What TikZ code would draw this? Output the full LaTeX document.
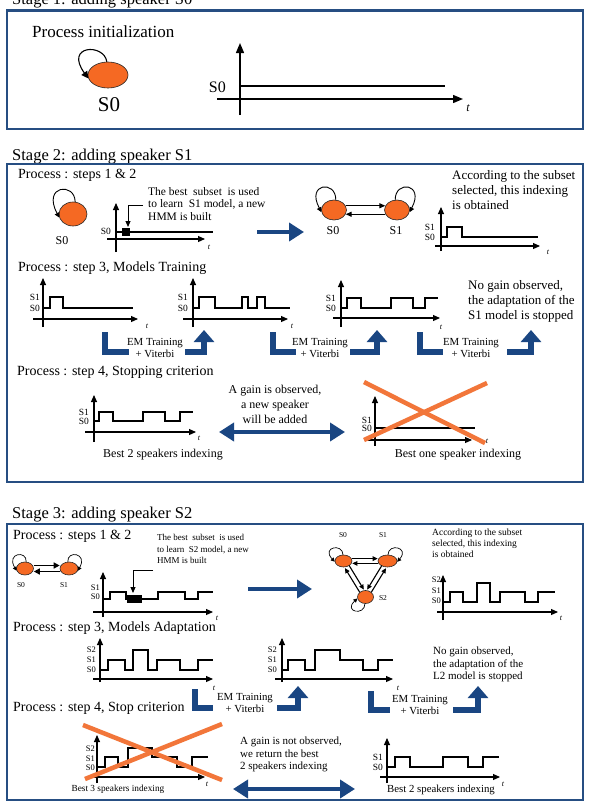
\documentclass[tikz,border=0pt]{standalone}
\usepackage{fontspec}
\setmainfont{Liberation Serif}
\usetikzlibrary{shapes.geometric,arrows.meta}
\newcommand{\fs}[2]{\fontsize{#1}{#2}\selectfont}
\definecolor{boxblue}{RGB}{38,78,130}
\definecolor{arrblue}{RGB}{26,70,130}
\definecolor{stateor}{RGB}{245,105,35}
\definecolor{xor}{RGB}{242,118,58}
\tikzset{
  stagebox/.style={draw=boxblue, line width=2.6pt},
  st/.style={ellipse, draw=black!85, line width=0.6pt, fill=stateor, inner sep=0pt},
  ax/.style={line width=1.1pt, -{Triangle[length=7pt,width=6pt]}},
  axone/.style={line width=1.4pt, -{Triangle[length=10pt,width=8pt]}},
  sig/.style={line width=2pt, line join=miter},
  sigone/.style={line width=2.4pt},
  tr/.style={line width=1.1pt, -{Triangle[length=6pt,width=5pt]}},
  trs/.style={line width=1.1pt, -{Triangle[length=5pt,width=4.5pt]}},
  trm/.style={line width=1.4pt, -{Triangle[length=6pt,width=6pt]}},
  lp/.style={line width=0.9pt, -{Triangle[length=5pt,width=5pt]}},
  lps/.style={line width=0.7pt, -{Triangle[length=4pt,width=4pt]}},
  lpone/.style={line width=1.1pt, -{Triangle[length=7pt,width=7pt]}},
  ptr/.style={line width=1pt, -{Triangle[length=6pt,width=5pt]}},
  bigarr/.style={arrblue, line width=4.5pt, -{Triangle[length=15pt,width=18pt]}},
  bigdbl/.style={arrblue, line width=4.5pt, {Triangle[length=15pt,width=18pt]}-{Triangle[length=15pt,width=18pt]}},
  ell/.style={arrblue, line width=6pt, line join=miter},
  upar/.style={arrblue, line width=6pt, line join=miter, -{Triangle[length=12pt,width=20pt]}},
  cross/.style={xor, line width=4.5pt},
  pl/.style={anchor=west, inner sep=0pt, font=\fs{14}{16}},
  ttl/.style={anchor=base west, inner sep=0pt, font=\fs{16.5}{18}},
  note/.style={anchor=north west, align=left, inner sep=0pt},
  em/.style={align=center, inner sep=0pt, font=\fs{10.8}{12}},
  gl/.style={anchor=east, inner sep=0pt, font=\fs{9.5}{10}},
  gls/.style={anchor=east, inner sep=0pt, font=\fs{8.5}{9}},
  sl/.style={inner sep=0pt, font=\fs{12}{13}},
  sls/.style={inner sep=0pt, font=\fs{7.5}{8}},
  tl/.style={inner sep=0pt, font=\fs{8}{9}\itshape},
  captext/.style={inner sep=0pt},
}
\begin{document}
\begin{tikzpicture}[x=1pt,y=-1pt]
\path[use as bounding box] (0,0) rectangle (590,809);
\clip (0,0) rectangle (590,809);
\fill[white] (0,0) rectangle (590,809);

% ================= Stage 1 =================
\node[ttl] (t1) at (12,4) {Stage 1: adding speaker S0};
\draw[stagebox] (7,10.5) rectangle (583,129);
\node[anchor=west, inner sep=0pt, font=\fs{17}{20}] (pinit) at (32,32) {Process initialization};
\node[st, minimum width=40pt, minimum height=26pt] (a0) at (108,75) {};
\draw[lpone] (a0.95) .. controls (104,43) and (64,45) .. (a0.190);
\node[inner sep=0pt, font=\fs{21}{24}] (a0l) at (109,105) {S0};
\draw[axone] (240,115) -- (240,43);
\draw[axone] (217,99) -- (463,99);
\draw[sigone] (240,86) -- (445,86);
\node[anchor=east, inner sep=0pt, font=\fs{16}{18}] (a0g) at (226,87) {S0};
\node[inner sep=0pt, font=\fs{12}{14}\itshape] (a0t) at (468,108) {t};

% ================= Stage 2 =================
\node[ttl] (t2) at (12,160) {Stage 2: adding speaker S1};
\draw[stagebox] (7,164) rectangle (583,482);
\node[pl] (p21) at (18,175) {Process : steps 1 \& 2};
\node[st, minimum width=28pt, minimum height=24pt] (b0) at (73,214) {};
\draw[lp] (b0.80) .. controls (75,182) and (42,185) .. (b0.195);
\node[sl] (b0l) at (62,241) {S0};
\draw[ax] (116,252) -- (116,203);
\draw[ax] (107,239) -- (205,239);
\node[tl] at (209,247) {t};
\draw[sig] (116,232) -- (213,232);
\node[gl] at (111,231) {S0};
\fill (122,228) rectangle (130,236);
\coordinate (pa) at (143,205);
\coordinate (pb) at (128,227);
\draw[ptr] (pa) -- (pb |- pa) -- (pb);
\node[note, font=\fs{11.5}{12.5}] (n21) at (148,187) {The best\ \ subset\ \ is used\\to learn\ \ S1 model, a new\\HMM is built};
\coordinate (ba1) at (257,232);
\coordinate (ba2) at (304,232);
\draw[bigarr] (ba1) -- (ba2);
\node[st, minimum width=25pt, minimum height=20pt] (c0) at (334,210) {};
\node[st, minimum width=25pt, minimum height=20pt] (c1) at (397,210) {};
\draw[lp] (c0.80) .. controls (336,180) and (306,183) .. (c0.190);
\draw[lp] (c1.100) .. controls (395,180) and (425,183) .. (c1.-10);
\draw[tr] (c0.20) -- (c1.160);
\draw[tr] (c1.-160) -- (c0.-20);
\node[sl] at (333,231) {S0};
\node[sl] at (396,231) {S1};
\node[note, font=\fs{13}{15}] (n22) at (452,170) {According to the subset\\selected, this indexing\\is obtained};
\draw[ax] (441,251) -- (441,207);
\draw[ax] (435,246) -- (540,246);
\node[tl] at (548,252) {t};
\draw[sig] (441,237) -- (447,237) -- (447,227) -- (462,227) -- (462,237) -- (538,237);
\node[gl] at (435,227) {S1};
\node[gl] at (435,237.5) {S0};

% step 3
\node[pl] (p23) at (18,268) {Process : step 3, Models Training};
\draw[ax] (43,327) -- (43,278);
\draw[ax] (33,319) -- (138,319);
\node[tl] at (147,326) {t};
\draw[sig] (43,308) -- (50,308) -- (50,297) -- (63,297) -- (63,308) -- (133,308);
\node[gl] at (40,297) {S1};
\node[gl] at (40,308) {S0};
\draw[ax] (193,327) -- (193,278);
\draw[ax] (183,319) -- (288,319);
\node[tl] at (292,326) {t};
\draw[sig] (193,308) -- (199,308) -- (199,297) -- (215,297) -- (215,308) -- (242,308) -- (242,297) -- (248,297) -- (248,308) -- (257,308) -- (257,297) -- (265,297) -- (265,308) -- (290,308);
\node[gl] at (188,297) {S1};
\node[gl] at (188,308) {S0};
\draw[ax] (341,327) -- (341,280);
\draw[ax] (333,318) -- (440,318);
\node[tl] at (441,327) {t};
\draw[sig] (341,308) -- (347,308) -- (347,298) -- (361,298) -- (361,308) -- (391,308) -- (391,298) -- (413,298) -- (413,308) -- (425,308) -- (425,298) -- (438,298);
\node[gl] at (336,298) {S1};
\node[gl] at (336,308) {S0};
\draw[ell] (105,332) -- (105,352) -- (129,352);
\node[em] (em1) at (155,348) {EM Training\\+ Viterbi};
\draw[upar] (185,352) -- (204,352) -- (204,330);
\draw[ell] (273,332) -- (273,352) -- (296,352);
\node[em] (em2) at (320,348) {EM Training\\+ Viterbi};
\draw[upar] (350,352) -- (377,352) -- (377,330);
\draw[ell] (420,332) -- (420,352) -- (443,352);
\node[em] (em3) at (471,348) {EM Training\\+ Viterbi};
\draw[upar] (507,352) -- (531,352) -- (531,330);
\node[note, font=\fs{13}{15}] (n23) at (468,280) {No gain observed,\\the adaptation of the\\S1 model is stopped};

% step 4
\node[pl] (p24) at (17,372) {Process : step 4, Stopping criterion};
\draw[ax] (94,442) -- (94,395);
\draw[ax] (85,432) -- (196,432);
\node[tl] at (199,438) {t};
\draw[sig] (94,421) -- (99,421) -- (99,412) -- (113,412) -- (113,421) -- (143,421) -- (143,412) -- (165,412) -- (165,421) -- (180,421) -- (180,412) -- (193,412);
\node[gl] at (89,412) {S1};
\node[gl] at (89,421.5) {S0};
\node[captext, font=\fs{12}{14}] (c24a) at (163,455) {Best 2 speakers indexing};
\node[align=center, inner sep=0pt, font=\fs{12}{15}] (n24) at (275,404) {A gain is observed,\\a new speaker\\will be added};
\coordinate (da1) at (219,432);
\coordinate (da2) at (345,432);
\draw[bigdbl] (da1) -- (da2);
\draw[ax] (375,446) -- (375,396);
\draw[ax] (366,440) -- (472,440);
\node[tl] at (487,441) {t};
\draw[sig] (375,428) -- (475,428);
\node[gl] at (372,420) {S1};
\node[gl] at (372,428.5) {S0};
\node[captext, font=\fs{12}{14}] (c24b) at (458,455) {Best one speaker indexing};
\draw[cross] (364,382) -- (485,443);
\draw[cross] (487,383) -- (364,440);

% ================= Stage 3 =================
\node[ttl] (t3) at (12,518) {Stage 3: adding speaker S2};
\draw[stagebox] (7,524) rectangle (583,800);
\node[pl] (p31) at (13,536) {Process : steps 1 \& 2};
\node[st, minimum width=17pt, minimum height=13pt] (d0) at (25,568.5) {};
\node[st, minimum width=18pt, minimum height=13pt] (d1) at (69,568.5) {};
\draw[lps] (d0.80) .. controls (27,550) and (6,553) .. (d0.195);
\draw[lps] (d1.100) .. controls (67,550) and (88,553) .. (d1.-15);
\draw[trm, transform canvas={shift={(0pt,3pt)}}] (d0) -- (d1);
\draw[trm, transform canvas={shift={(0pt,-3pt)}}] (d1) -- (d0);
\node[sls] at (21,585) {S0};
\node[sls] at (64,585) {S1};
\node[note, font=\fs{9}{11.5}] (n31) at (157,534.5) {The best\ \ subset\ \ is used\\to learn\ \ S2 model, a new\\HMM is built};
\draw[ax] (103,617) -- (103,572);
\draw[ax] (93,612) -- (213,612);
\node[tl] at (217,618) {t};
\draw[sig] (103,599) -- (110,599) -- (110,591.5) -- (126,591.5) -- (126,599) -- (158,599) -- (158,591.5) -- (185,591.5) -- (185,599) -- (198,599) -- (198,591.5) -- (213,591.5);
\fill (127,595) rectangle (142,603);
\coordinate (qa) at (153,570);
\coordinate (qb) at (133,593);
\draw[ptr] (qa) -- (qb |- qa) -- (qb);
\node[gls] at (100,588) {S1};
\node[gls] at (100,597) {S0};
\coordinate (ea1) at (248,589);
\coordinate (ea2) at (312,589);
\draw[bigarr] (ea1) -- (ea2);
\node[st, minimum width=17pt, minimum height=12pt] (e0) at (343.5,561) {};
\node[st, minimum width=19pt, minimum height=12pt] (e1) at (387.5,561) {};
\node[st, minimum width=16pt, minimum height=13pt] (e2) at (365.5,597) {};
\draw[lps] (e0.95) .. controls (343,543) and (321,547) .. (e0.185);
\draw[lps] (e1.85) .. controls (388,543) and (410,547) .. (e1.-5);
\draw[lps] (e2.265) .. controls (365,616) and (343,612) .. (e2.190);
\draw[trs, transform canvas={shift={(0pt,2.4pt)}}] (e0) -- (e1);
\draw[trs, transform canvas={shift={(0pt,-2.4pt)}}] (e1) -- (e0);
\draw[trs, transform canvas={shift={(2.1pt,1.3pt)}}] (e0) -- (e2);
\draw[trs, transform canvas={shift={(-2.1pt,-1.3pt)}}] (e2) -- (e0);
\draw[trs, transform canvas={shift={(2.1pt,-1.3pt)}}] (e2) -- (e1);
\draw[trs, transform canvas={shift={(-2.1pt,1.3pt)}}] (e1) -- (e2);
\node[sls] at (343,535) {S0};
\node[sls] at (383,535) {S1};
\node[sls] at (383,598) {S2};
\node[note, font=\fs{9.5}{11}] (n32) at (432,529) {According to the subset\\selected, this indexing\\is obtained};
\draw[ax] (443,620) -- (443,575);
\draw[ax] (437,612) -- (558,612);
\node[tl] at (561,618) {t};
\draw[sig] (443,602) -- (450,602) -- (450,592) -- (463,592) -- (463,602) -- (477,602) -- (477,583) -- (490,583) -- (490,602) -- (500,602) -- (500,592) -- (525,592) -- (525,602) -- (538,602) -- (538,592) -- (555,592);
\node[gls] at (441,580) {S2};
\node[gls] at (441,590.5) {S1};
\node[gls] at (441,601) {S0};

% step 3
\node[pl] (p33) at (13,628) {Process : step 3, Models Adaptation};
\draw[ax] (100,682) -- (100,638);
\draw[ax] (93,679) -- (213,679);
\node[tl] at (214,688) {t};
\draw[sig] (100,670) -- (108,670) -- (108,660) -- (125,660) -- (125,670) -- (133,670) -- (133,650) -- (148,650) -- (148,670) -- (157,670) -- (157,660) -- (180,660) -- (180,670) -- (198,670) -- (198,660) -- (213,660);
\node[gls] at (96,650) {S2};
\node[gls] at (96,660) {S1};
\node[gls] at (96,670) {S0};
\draw[ax] (282,682) -- (282,638);
\draw[ax] (275,679) -- (393,679);
\node[tl] at (398,688) {t};
\draw[sig] (282,670) -- (288,670) -- (288,660) -- (305,660) -- (305,670) -- (315,670) -- (315,650) -- (340,650) -- (340,660) -- (363,660) -- (363,670) -- (378,670) -- (378,660) -- (393,660);
\node[gls] at (277,650) {S2};
\node[gls] at (277,660) {S1};
\node[gls] at (277,670) {S0};
\node[note, font=\fs{11}{12.3}] (n33) at (433,647) {No gain observed,\\the adaptation of the\\L2 model is stopped};
\draw[ell] (195,689) -- (195,708) -- (213,708);
\node[em] (em4) at (245,703) {EM Training\\+ Viterbi};
\draw[upar] (277,708) -- (298,708) -- (298,686);
\draw[ell] (371,691) -- (371,710) -- (390,710);
\node[em] (em5) at (420,705) {EM Training\\+ Viterbi};
\draw[upar] (453,710) -- (478,710) -- (478,686);

% step 4
\node[pl] (p34) at (13,708) {Process : step 4, Stop criterion};
\draw[ax] (97,783) -- (97,735);
\draw[ax] (90,777) -- (205,777);
\node[tl] at (207,784) {t};
\draw[sig] (97,767) -- (105,767) -- (105,757) -- (118,757) -- (118,767) -- (128,767) -- (128,748) -- (152,748) -- (152,757) -- (177,757) -- (177,767) -- (192,767) -- (192,757) -- (208,757);
\node[gls] at (95,749) {S2};
\node[gls] at (95,758.5) {S1};
\node[gls] at (95,768) {S0};
\draw[cross] (83,725) -- (222,780);
\draw[cross] (222,724) -- (85,779);
\node[captext, font=\fs{9.3}{11}] (c34a) at (118,789) {Best 3 speakers indexing};
\node[note, font=\fs{11}{12.5}] (n34) at (240,737) {A gain is not observed,\\we return the best\\2 speakers indexing};
\coordinate (fa1) at (233,789);
\coordinate (fa2) at (355,789);
\draw[bigdbl] (fa1) -- (fa2);
\draw[ax] (387,783) -- (387,738);
\draw[ax] (380,777) -- (500,777);
\node[tl] at (503,784) {t};
\draw[sig] (387,767) -- (395,767) -- (395,757) -- (410,757) -- (410,767) -- (443,767) -- (443,757) -- (468,757) -- (468,767) -- (483,767) -- (483,757) -- (499,757);
\node[gl] at (383,757) {S1};
\node[gl] at (383,767) {S0};
\node[captext, font=\fs{10.8}{12}] (c34b) at (441,790) {Best 2 speakers indexing};
\end{tikzpicture}
\end{document}
